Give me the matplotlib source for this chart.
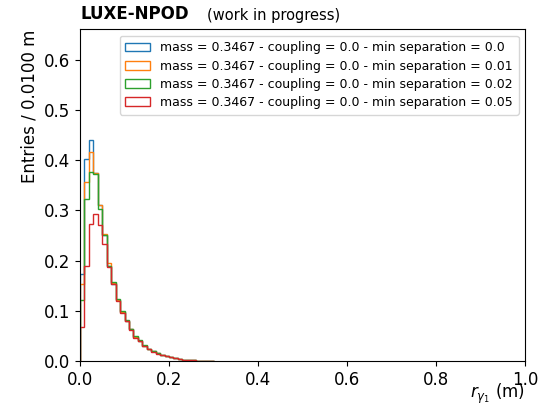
import numpy as np
import matplotlib
matplotlib.use('Agg')
import matplotlib.pyplot as plt

# per-bin entries (bin width 0.01 m), min separation = 0.0, 0.01, 0.02, 0.05
bin_width = 0.01
sep_000 = [0.173, 0.403, 0.440, 0.375, 0.310, 0.250, 0.190, 0.153, 0.122, 0.097,
           0.080, 0.063, 0.047, 0.040, 0.030, 0.023, 0.019, 0.015, 0.011, 0.009,
           0.007, 0.005, 0.004, 0.003, 0.002, 0.0015, 0.001, 0.0008, 0.0005, 0.0003]
sep_001 = [0.153, 0.357, 0.417, 0.375, 0.310, 0.253, 0.195, 0.155, 0.122, 0.097,
           0.080, 0.063, 0.047, 0.040, 0.030, 0.023, 0.019, 0.015, 0.011, 0.009,
           0.007, 0.005, 0.004, 0.003, 0.002, 0.0015, 0.001, 0.0008, 0.0005, 0.0003]
sep_002 = [0.122, 0.323, 0.377, 0.373, 0.303, 0.250, 0.190, 0.157, 0.124, 0.099,
           0.082, 0.064, 0.049, 0.041, 0.031, 0.024, 0.019, 0.015, 0.012, 0.009,
           0.007, 0.005, 0.004, 0.003, 0.002, 0.0015, 0.001, 0.0008, 0.0005, 0.0003]
sep_005 = [0.067, 0.190, 0.272, 0.293, 0.270, 0.233, 0.187, 0.153, 0.120, 0.096,
           0.079, 0.062, 0.046, 0.039, 0.029, 0.023, 0.018, 0.014, 0.011, 0.009,
           0.007, 0.005, 0.004, 0.003, 0.002, 0.0015, 0.001, 0.0008, 0.0005, 0.0003]
separations = ['0.0', '0.01', '0.02', '0.05']
series = [sep_000, sep_001, sep_002, sep_005]

edges = np.arange(len(sep_000) + 1) * bin_width
centers = 0.5 * (edges[:-1] + edges[1:])

fig = plt.figure(figsize=(5.47, 4.03), dpi=100)
ax = fig.add_axes([0.1463, 0.1042, 0.8135, 0.8226])

ymax = 0
for sep, vals in zip(separations, series):
    ax.hist(centers, bins=edges, weights=vals, histtype='step',
            label=f'mass = 0.3467 - coupling = 0.0 - min separation = {sep}')
    ymax = max(ymax, max(vals))

ax.set_xlim(0, 1.0)
ax.set_ylim(0, 1.5 * ymax)
ax.tick_params(labelsize=12)
ax.set_xlabel(r'$r_{\gamma_1}$ (m)', fontsize=12, loc='right')
ax.xaxis.set_label_coords(1.0, -0.062)
ax.set_ylabel(f'Entries / {bin_width:.4f} m', fontsize=12, loc='top')
ax.legend(loc='upper right', fontsize=9, handlelength=2, borderpad=0.45,
          labelspacing=0.42)

t1 = ax.text(0.0, 1.02, 'LUXE-NPOD', transform=ax.transAxes,
             fontsize=12, fontweight='bold', va='bottom')
ax.annotate('(work in progress)', xy=(1, 0), xycoords=t1, xytext=(13, 0),
            textcoords='offset points', fontsize=10.5, va='bottom')

fig.savefig('out.png', dpi=100)
